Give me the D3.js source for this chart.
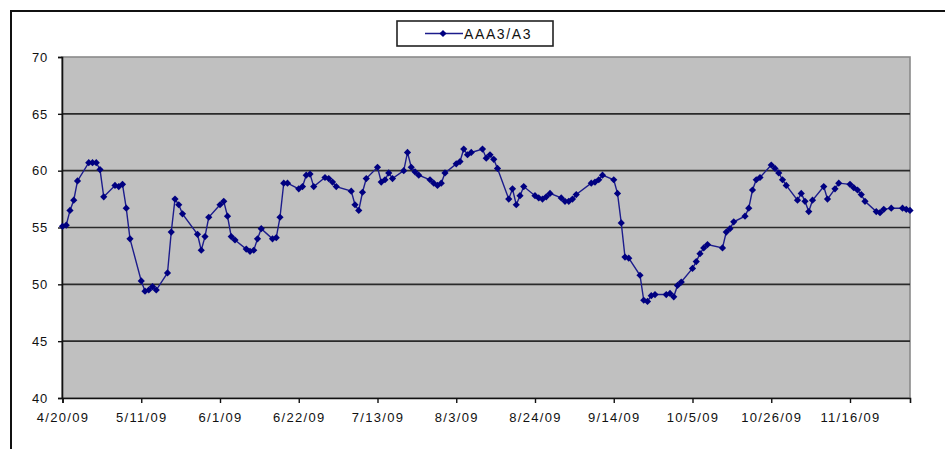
<!DOCTYPE html>
<html>
<head>
<meta charset="utf-8">
<script src="https://cdn.jsdelivr.net/npm/d3@7"></script>
<style>
  html, body { margin: 0; padding: 0; background: #fff; }
  svg { display: block; }
  text { font-family: "Liberation Sans", Arial, sans-serif; fill: #111; }
</style>
</head>
<body>
<svg id="chart" width="945" height="449"></svg>
<script>
// Series name
const seriesName = "AAA3/A3";

// Trading dates (2009) and the AAA3/A3 values on each
const dates = [
  "4/20","4/21","4/22","4/23","4/24",
  "4/27","4/28","4/29","4/30","5/1",
  "5/4","5/5","5/6","5/7","5/8",
  "5/11","5/12","5/13","5/14","5/15",
  "5/18","5/19","5/20","5/21","5/22",
  "5/26","5/27","5/28","5/29",
  "6/1","6/2","6/3","6/4","6/5",
  "6/8","6/9","6/10","6/11","6/12",
  "6/15","6/16","6/17","6/18","6/19",
  "6/22","6/23","6/24","6/25","6/26",
  "6/29","6/30","7/1","7/2",
  "7/6","7/7","7/8","7/9","7/10",
  "7/13","7/14","7/15","7/16","7/17",
  "7/20","7/21","7/22","7/23","7/24",
  "7/27","7/28","7/29","7/30","7/31",
  "8/3","8/4","8/5","8/6","8/7",
  "8/10","8/11","8/12","8/13","8/14",
  "8/17","8/18","8/19","8/20","8/21",
  "8/24","8/25","8/26","8/27","8/28",
  "8/31","9/1","9/2","9/3","9/4",
  "9/8","9/9","9/10","9/11",
  "9/14","9/15","9/16","9/17","9/18",
  "9/21","9/22","9/23","9/24","9/25",
  "9/28","9/29","9/30","10/1","10/2",
  "10/5","10/6","10/7","10/8","10/9",
  "10/13","10/14","10/15","10/16",
  "10/19","10/20","10/21","10/22","10/23",
  "10/26","10/27","10/28","10/29","10/30",
  "11/2","11/3","11/4","11/5","11/6",
  "11/9","11/10","11/12","11/13",
  "11/16","11/17","11/18","11/19","11/20",
  "11/23","11/24","11/25","11/27",
  "11/30","12/1","12/2"
];

const values = [
  55.1,55.2,56.5,57.4,59.1,
  60.7,60.7,60.7,60.1,57.7,
  58.7,58.6,58.8,56.7,54.0,
  50.3,49.4,49.5,49.8,49.5,
  51.0,54.6,57.5,57.0,56.2,
  54.4,53.0,54.2,55.9,
  57.0,57.3,56.0,54.2,53.9,
  53.1,52.9,53.0,54.0,54.9,
  54.0,54.1,55.9,58.9,58.9,
  58.4,58.6,59.6,59.7,58.6,
  59.4,59.3,59.0,58.6,
  58.2,57.0,56.5,58.1,59.3,
  60.3,59.0,59.2,59.8,59.3,
  60.0,61.6,60.3,59.9,59.6,
  59.2,58.9,58.7,58.9,59.8,
  60.6,60.8,61.9,61.4,61.6,
  61.9,61.1,61.4,61.0,60.2,
  57.5,58.4,57.0,57.8,58.6,
  57.8,57.6,57.5,57.7,58.0,
  57.6,57.3,57.3,57.5,57.9,
  58.9,59.0,59.2,59.6,
  59.2,58.0,55.4,52.4,52.3,
  50.8,48.6,48.5,49.0,49.1,
  49.1,49.2,48.9,49.9,50.2,
  51.4,52.0,52.7,53.2,53.5,
  53.2,54.6,54.9,55.5,
  56.0,56.7,58.3,59.2,59.4,
  60.5,60.2,59.8,59.2,58.7,
  57.4,58.0,57.3,56.4,57.4,
  58.6,57.5,58.4,58.9,
  58.8,58.5,58.3,57.9,57.3,
  56.4,56.3,56.6,56.7,
  56.7,56.6,56.5
];

// Axis labels
const xTickLabels = ["4/20/09","5/11/09","6/1/09","6/22/09","7/13/09","8/3/09",
                     "8/24/09","9/14/09","10/5/09","10/26/09","11/16/09"];
const yTicks = [40, 45, 50, 55, 60, 65, 70];

const parseShort = d3.utcParse("%m/%d/%Y");
const parseLabel = d3.utcParse("%m/%d/%y");
const data = dates.map((d, i) => ({ date: parseShort(d + "/2009"), value: values[i] }));
const tickDates = xTickLabels.map(parseLabel);

const svg = d3.select("#chart");

// Outer chart frame
svg.append("rect")
  .attr("x", 11).attr("y", 11)
  .attr("width", 1000).attr("height", 1000)
  .attr("fill", "none").attr("stroke", "#111").attr("stroke-width", 2);

const plot = { left: 62, right: 910, top: 57, bottom: 398 };

const x = d3.scaleUtc()
  .domain([parseLabel("4/20/09"), parseLabel("12/2/09")])
  .range([plot.left + 0.5, plot.right]);
const y = d3.scaleLinear().domain([40, 70]).range([plot.bottom, plot.top]);

// Plot area background
svg.append("rect")
  .attr("x", plot.left).attr("y", plot.top)
  .attr("width", plot.right - plot.left).attr("height", plot.bottom - plot.top)
  .attr("fill", "#c0c0c0")
  .attr("stroke", "#8a8a8a").attr("stroke-width", 1.6);

// Horizontal gridlines
svg.append("g")
  .selectAll("line")
  .data(yTicks.filter(t => t > 40 && t < 70))
  .join("line")
  .attr("x1", plot.left).attr("x2", plot.right)
  .attr("y1", d => y(d)).attr("y2", d => y(d))
  .attr("stroke", "#2a2a2a").attr("stroke-width", 1.6);

// Y axis
const yAxis = svg.append("g")
  .attr("transform", `translate(${plot.left},0)`)
  .call(d3.axisLeft(y).tickValues(yTicks).tickSize(4).tickPadding(10).tickFormat(d3.format("d")));
yAxis.select(".domain").attr("stroke", "#111").attr("stroke-width", 1.6);
yAxis.selectAll(".tick line").attr("stroke", "#111").attr("stroke-width", 1.4);
yAxis.selectAll("text")
  .attr("font-size", 13).attr("letter-spacing", 0.8)
  .attr("fill", "#111");

// X axis
const xAxis = svg.append("g")
  .attr("transform", `translate(0,${plot.bottom})`)
  .call(d3.axisBottom(x).tickValues(tickDates).tickSize(5).tickPadding(10)
    .tickFormat((d, i) => xTickLabels[i]));
xAxis.select(".domain").attr("stroke", "#111").attr("stroke-width", 1.6);
xAxis.selectAll(".tick line").attr("stroke", "#111").attr("stroke-width", 1.4);
xAxis.selectAll("text")
  .attr("font-size", 13).attr("letter-spacing", 1.3)
  .attr("fill", "#111");

// Series line
const line = d3.line().x(d => x(d.date)).y(d => y(d.value));
svg.append("path")
  .datum(data)
  .attr("d", line)
  .attr("fill", "none")
  .attr("stroke", "#1c1c8c")
  .attr("stroke-width", 1.4);

// Diamond markers
const diamond = d3.symbol(d3.symbolSquare, 26);
svg.append("g")
  .selectAll("path")
  .data(data)
  .join("path")
  .attr("d", diamond)
  .attr("transform", d => `translate(${x(d.date)},${y(d.value)}) rotate(45)`)
  .attr("fill", "#000080");

// Legend
const legend = svg.append("g");
legend.append("rect")
  .attr("x", 397).attr("y", 21).attr("width", 156).attr("height", 25)
  .attr("fill", "#fff").attr("stroke", "#222").attr("stroke-width", 1.6);
legend.append("line")
  .attr("x1", 425).attr("x2", 463).attr("y1", 33.5).attr("y2", 33.5)
  .attr("stroke", "#1c1c8c").attr("stroke-width", 1.4);
legend.append("path")
  .attr("d", diamond)
  .attr("transform", "translate(443,33.5) rotate(45)")
  .attr("fill", "#000080");
legend.append("text")
  .attr("x", 464).attr("y", 38.5)
  .attr("font-size", 14).attr("letter-spacing", 1.6)
  .text(seriesName);
</script>
</body>
</html>
